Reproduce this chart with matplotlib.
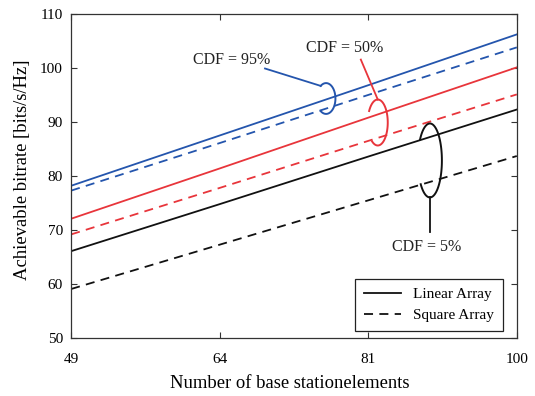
import numpy as np
import matplotlib.pyplot as plt
from matplotlib.lines import Line2D

plt.rcParams['font.family'] = ['Liberation Serif', 'DejaVu Serif']

# number of base station elements (x axis is spaced on sqrt(N))
n_elements = [49, 64, 81, 100]
xticks = [49, 64, 81, 100]

# achievable bitrate [bits/s/Hz]
cdf95_linear = [78.2, 87.5, 96.8, 106.2]
cdf95_square = [77.3, 86.1, 95.0, 103.8]
cdf50_linear = [72.1, 81.4, 90.8, 100.1]
cdf50_square = [69.2, 77.8, 86.5, 95.1]
cdf5_linear = [66.1, 74.8, 83.6, 92.3]
cdf5_square = [59.1, 67.3, 75.5, 83.7]

blue = '#2455ad'
red = '#e8353b'
black = '#111111'

fig = plt.figure(figsize=(5.35, 3.96), dpi=100)
ax = fig.add_axes([0.133, 0.146, 0.833, 0.819])
ax.set_xscale('function', functions=(np.sqrt, np.square))

lw = 1.3
dash = (0, (5, 3.5))
ax.plot(n_elements, cdf95_linear, color=blue, lw=lw)
ax.plot(n_elements, cdf95_square, color=blue, lw=lw, linestyle=dash)
ax.plot(n_elements, cdf50_linear, color=red, lw=lw)
ax.plot(n_elements, cdf50_square, color=red, lw=lw, linestyle=dash)
ax.plot(n_elements, cdf5_linear, color=black, lw=lw)
ax.plot(n_elements, cdf5_square, color=black, lw=lw, linestyle=dash)

ax.set_xlim(49, 100)
ax.set_ylim(50, 110)
ax.set_xticks(xticks)
ax.set_xticklabels([str(v) for v in xticks])
ax.set_yticks(np.arange(50, 111, 10))
ax.tick_params(direction='in', top=True, right=True, length=4,
               labelsize=11, color='#333333', width=0.8)
for s in ax.spines.values():
    s.set_color('#333333')
    s.set_linewidth(0.9)
ax.tick_params(axis='x', pad=10.5)
ax.tick_params(axis='y', pad=6)

ax.set_xlabel('Number of base stationelements', fontsize=13.4)
ax.set_ylabel('Achievable bitrate [bits/s/Hz]', fontsize=13.4)
ax.xaxis.set_label_coords(0.491, -0.112)
ax.yaxis.set_label_coords(-0.09, 0.52)


# loops marking the groups of curves (axes fraction coordinates)
def loop(cx, cy, w, h, t1, t2, color):
    t = np.radians(np.linspace(t1, t2, 80))
    xs = cx + w / 2 * np.cos(t)
    ys = cy + h / 2 * np.sin(t)
    ax.plot(xs, ys, color=color, lw=1.4, transform=ax.transAxes, clip_on=False)


def pt(cx, cy, w, h, a):
    a = np.radians(a)
    return cx + w / 2 * np.cos(a), cy + h / 2 * np.sin(a)


# CDF = 95%
c = (0.572, 0.739, 0.042, 0.095)
loop(*c, 125, -125, blue)
p = pt(*c, 125)
ax.plot([p[0], 0.435], [p[1], 0.8315], color=blue, lw=1.3, transform=ax.transAxes)
ax.text(0.361, 0.859, 'CDF = 95%', transform=ax.transAxes, ha='center', va='center',
        fontsize=11.5, color='#222222')

# CDF = 50%
c = (0.688, 0.665, 0.0448, 0.1417)
loop(*c, 150, -125, red)
p = pt(*c, 90)
ax.plot([p[0], 0.650], [p[1], 0.859], color=red, lw=1.3, transform=ax.transAxes)
ax.text(0.614, 0.896, 'CDF = 50%', transform=ax.transAxes, ha='center', va='center',
        fontsize=11.5, color='#222222')

# CDF = 5%
c = (0.805, 0.548, 0.0538, 0.228)
loop(*c, 145, -140, black)
p = pt(*c, -90)
ax.plot([p[0], p[0]], [p[1], 0.3265], color=black, lw=1.3, transform=ax.transAxes)
ax.text(0.797, 0.280, 'CDF = 5%', transform=ax.transAxes, ha='center', va='center',
        fontsize=11.5, color='#222222')

handles = [Line2D([], [], color=black, lw=1.3),
           Line2D([], [], color=black, lw=1.3, linestyle=dash)]
leg = ax.legend(handles, ['Linear Array', 'Square Array'], loc='lower right',
                bbox_to_anchor=(0.9686, 0.0216), borderaxespad=0, fontsize=11,
                handlelength=2.4, fancybox=False, framealpha=1,
                edgecolor='#222222', borderpad=0.6, labelspacing=0.45)
leg.get_frame().set_linewidth(0.9)

fig.savefig('out.png', dpi=100)
